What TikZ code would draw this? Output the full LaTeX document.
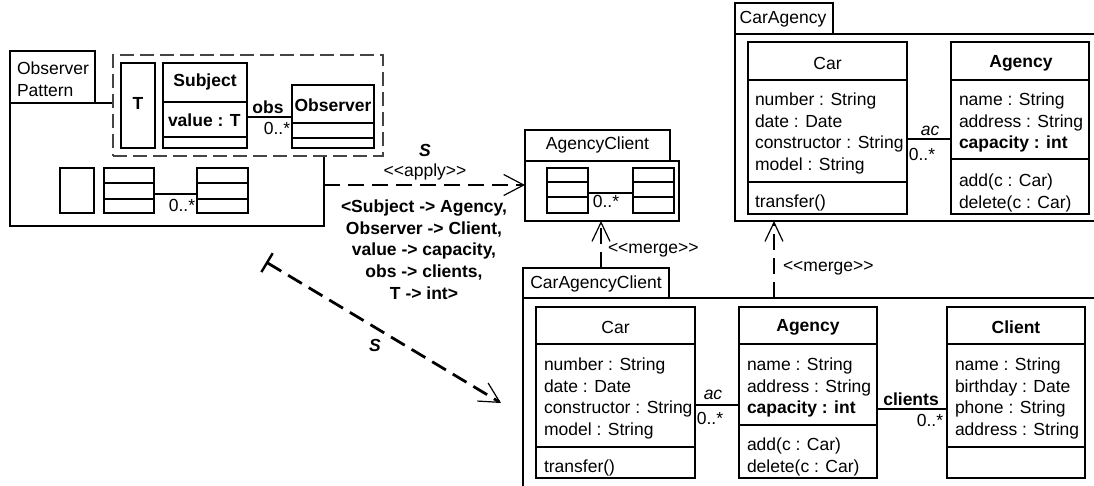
\documentclass[tikz,border=0pt]{standalone}
\usepackage{fontspec}
\setmainfont{Liberation Sans}
\usetikzlibrary{arrows.meta}
\definecolor{dboxgray}{RGB}{68,68,68}
\newcommand{\ufont}{\fontsize{17.5}{21.7}\selectfont}
\newcommand{\ubox}[6][]{\node[ubox,#1,minimum width={#5-#3},minimum height={#6-#4}] (#2) at (#3,#4) {};}
\newcommand{\udiv}[2]{\draw[uline] (#1.west |- 0,#2) -- (#1.east |- 0,#2);}
\tikzset{
  every node/.style={font=\ufont, inner sep=0pt, outer sep=0pt},
  ubox/.style={draw, line width=1.2pt, rectangle, fill=white, anchor=north west},
  uline/.style={line width=1.2pt},
  bftext/.style={font=\ufont\bfseries},
  bfitext/.style={font=\ufont\bfseries\itshape},
  itext/.style={font=\ufont\itshape},
  attr/.style={anchor=north west, align=left},
  dboxstyle/.style={draw=dboxgray, line width=2.6pt, dash pattern=on 14pt off 6pt},
  dconn/.style={line width=2.8pt, dash pattern=on 16pt off 8pt},
  barb/.style={-{Straight Barb[length=20pt,width=21pt,line width=1.2pt]}},
}
\begin{document}
\begin{tikzpicture}[x=1pt,y=-1pt]
\useasboundingbox (0,0) rectangle (1094,485);
\clip (0,0) rectangle (1094,485);

% ---------- Observer Pattern package ----------
\ubox{optab}{10}{51}{95}{103}
\ubox{opbody}{10}{103}{324}{226}
\node[attr] (optxt) at (17,61.7) {Observer\\Pattern};
\ubox[dboxstyle]{dbox}{113}{55}{383}{156}
\ubox{tbox}{121}{63}{155}{148}
\node[bftext] (ttxt) at (138,103) {T};
\ubox{subj}{163}{63}{247}{148}
\udiv{subj}{102}
\udiv{subj}{137}
\node[bftext] (subjname) at (205,82) {Subject};
\node[bftext, anchor=west] (subjattr) at (168,120) {value : T};
\ubox{obs}{292}{85}{374}{148}
\udiv{obs}{123}
\udiv{obs}{138}
\node[bftext] (obsname) at (333,105) {Observer};
\draw[uline] (subj.east |- 0,117) -- (obs.west |- 0,117);
\node[bftext] (obslbl) at (268,107) {obs};
\node (obsmult) at (277,128) {0..*};
% mini boxes
\ubox{mb1}{60}{168}{94}{213}
\ubox{mb2}{104}{168}{154}{213}
\udiv{mb2}{183}
\udiv{mb2}{199}
\ubox{mb3}{197}{168}{248}{213}
\udiv{mb3}{183}
\udiv{mb3}{199}
\draw[uline] (mb2.east |- 0,194) -- (mb3.west |- 0,194);
\node (mbmult) at (182,205) {0..*};

% ---------- AgencyClient package ----------
\ubox{agtab}{525}{130}{670}{161}
\node (agtxt) at (597.5,145) {AgencyClient};
\ubox{agbody}{525}{161}{679}{221}
\ubox{aga}{547}{168}{588}{213}
\udiv{aga}{182}
\udiv{aga}{197}
\ubox{agb}{633}{168}{674}{213}
\udiv{agb}{182}
\udiv{agb}{197}
\draw[uline] (aga.east |- 0,193) -- (agb.west |- 0,193);
\node (agmult) at (606,201) {0..*};

% ---------- CarAgency package ----------
\ubox{catab}{735}{3}{833}{34}
\node (catxt) at (783,19) {CarAgency};
\ubox{cabody}{735}{34}{1110}{221}
\ubox{cacar}{748}{42}{907}{214}
\udiv{cacar}{80}
\udiv{cacar}{182}
\node (cacarname) at (827.5,63) {Car};
\node[attr] (cacarattr) at (755,92.7) {number : String\\date : Date\\constructor : String\\model : String};
\node[attr] (cacarops) at (755,194.7) {transfer()};
\ubox{caag}{951}{42}{1089}{214}
\udiv{caag}{80}
\udiv{caag}{159}
\node[bftext] (caagname) at (1021,63) {Agency};
\node[attr] (caagattr) at (959,92.7) {name : String\\address : String\\\textbf{capacity : int}};
\node[attr] (caagops) at (959,173.7) {add(c : Car)\\delete(c : Car)};
\draw[uline] (cacar.east |- 0,139) -- (caag.west |- 0,139);
\node[itext] (caac) at (930,131) {ac};
\node (camult) at (922,154) {0..*};

% ---------- CarAgencyClient package ----------
\ubox{cactab}{523}{268}{669}{298}
\node (cactxt) at (596,284) {CarAgencyClient};
\ubox{cacbody}{523}{298}{1110}{500}
\ubox{caccar}{536}{307}{695}{478}
\udiv{caccar}{344}
\udiv{caccar}{447}
\node (caccarname) at (615.5,327) {Car};
\node[attr] (caccarattr) at (544,357.7) {number : String\\date : Date\\constructor : String\\model : String};
\node[attr] (caccarops) at (544,459.7) {transfer()};
\ubox{cacag}{739}{307}{877}{478}
\udiv{cacag}{344}
\udiv{cacag}{425}
\node[bftext] (cacagname) at (808,327) {Agency};
\node[attr] (cacagattr) at (747,357.7) {name : String\\address : String\\\textbf{capacity : int}};
\node[attr] (cacagops) at (747,437.7) {add(c : Car)\\delete(c : Car)};
\ubox{caccl}{947}{307}{1085}{478}
\udiv{caccl}{344}
\udiv{caccl}{447}
\node[bftext] (cacclname) at (1016,327) {Client};
\node[attr] (cacclattr) at (955,357.7) {name : String\\birthday : Date\\phone : String\\address : String};
\draw[uline] (caccar.east |- 0,405) -- (cacag.west |- 0,405);
\node[itext] (cacac) at (713,395) {ac};
\node (cacmult) at (710,418) {0..*};
\draw[uline] (cacag.east |- 0,409) -- (caccl.west |- 0,409);
\node[bftext] (cacclients) at (911,399) {clients};
\node (cacmult2) at (930,420) {0..*};

% ---------- connectors ----------
\draw[dconn, barb] (opbody.east |- 0,185) -- (agbody.west |- 0,185);
\node[bfitext] (s1) at (425,150) {S};
\node (applylbl) at (425,172) {<{}<apply>{}>};
\node[bftext, align=center, anchor=north] (maplbl) at (424,199.7)
  {<Subject -> Agency,\\Observer -> Client,\\value -> capacity,\\obs -> clients,\\T -> int>};

\draw[dconn, -{Straight Barb[length=19pt,width=18pt,line width=1.2pt]}] (cactab.north -| 601,0) -- (agbody.south -| 601,0);
\node[anchor=west] (merge1) at (608,250) {<{}<merge>{}>};
\draw[dconn, -{Straight Barb[length=19pt,width=18pt,line width=1.2pt]}] (cacbody.north -| 774,0) -- (cabody.south -| 774,0);
\node[anchor=west] (merge2) at (783,268) {<{}<merge>{}>};

\coordinate (dstart) at (266,262);
\coordinate (dend) at (501,403);
\draw[dconn, {Bar[width=22pt,line width=2.4pt]}-{Straight Barb[length=20pt,width=21pt,line width=1.2pt]}] (dstart) -- (dend);
\node[bfitext] (s2) at (375,345) {S};
\end{tikzpicture}
\end{document}
